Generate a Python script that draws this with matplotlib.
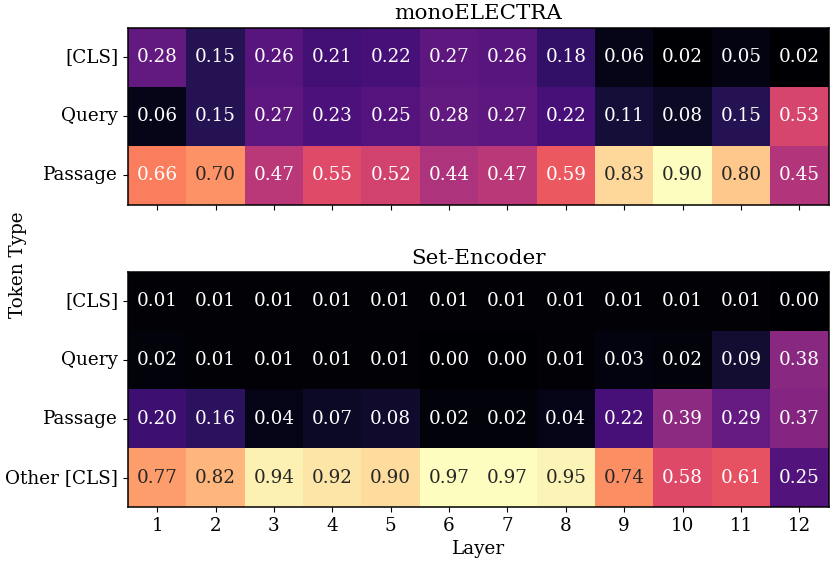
import matplotlib

matplotlib.use("Agg")
import matplotlib.pyplot as plt
import numpy as np
import seaborn as sns

plt.rcParams["font.family"] = ["DejaVu Serif"]

layers = [str(i) for i in range(1, 13)]

mono_rows = ["[CLS]", "Query", "Passage"]
mono_cls = [0.28, 0.15, 0.26, 0.21, 0.22, 0.27, 0.26, 0.18, 0.06, 0.02, 0.05, 0.02]
mono_query = [0.06, 0.15, 0.27, 0.23, 0.25, 0.28, 0.27, 0.22, 0.11, 0.08, 0.15, 0.53]
mono_passage = [0.66, 0.70, 0.47, 0.55, 0.52, 0.44, 0.47, 0.59, 0.83, 0.90, 0.80, 0.45]

set_rows = ["[CLS]", "Query", "Passage", "Other [CLS]"]
set_cls = [0.01, 0.01, 0.01, 0.01, 0.01, 0.01, 0.01, 0.01, 0.01, 0.01, 0.01, 0.00]
set_query = [0.02, 0.01, 0.01, 0.01, 0.01, 0.00, 0.00, 0.01, 0.03, 0.02, 0.09, 0.38]
set_passage = [0.20, 0.16, 0.04, 0.07, 0.08, 0.02, 0.02, 0.04, 0.22, 0.39, 0.29, 0.37]
set_other = [0.77, 0.82, 0.94, 0.92, 0.90, 0.97, 0.97, 0.95, 0.74, 0.58, 0.61, 0.25]

FS = 13.2


def draw(ax, data, rows, title, xlabels):
    sns.heatmap(np.array(data), ax=ax, cmap="magma", annot=True, fmt=".2f",
                cbar=False, annot_kws={"fontsize": FS},
                xticklabels=layers, yticklabels=rows)
    for sp in ax.spines.values():
        sp.set_visible(True)
        sp.set_color("black")
        sp.set_linewidth(1.1)
    ax.set_title(title, fontsize=15.4)
    ax.tick_params(labelsize=FS)
    ax.set_yticklabels(rows, rotation=0)
    if not xlabels:
        ax.set_xticklabels([])
    else:
        ax.set_xticklabels(layers, rotation=0)


fig = plt.figure(figsize=(8.31, 5.64), dpi=100)
ax_top = fig.add_axes([0.154, 0.637, 0.843, 0.314])
ax_bot = fig.add_axes([0.154, 0.101, 0.843, 0.417])

draw(ax_top, [mono_cls, mono_query, mono_passage], mono_rows, "monoELECTRA", False)
draw(ax_bot, [set_cls, set_query, set_passage, set_other], set_rows, "Set-Encoder", True)
ax_bot.set_xlabel("Layer", fontsize=FS)
fig.text(0.022, 0.53, "Token Type", rotation=90, fontsize=FS, va="center", ha="center")

fig.savefig("out.png", dpi=100)
